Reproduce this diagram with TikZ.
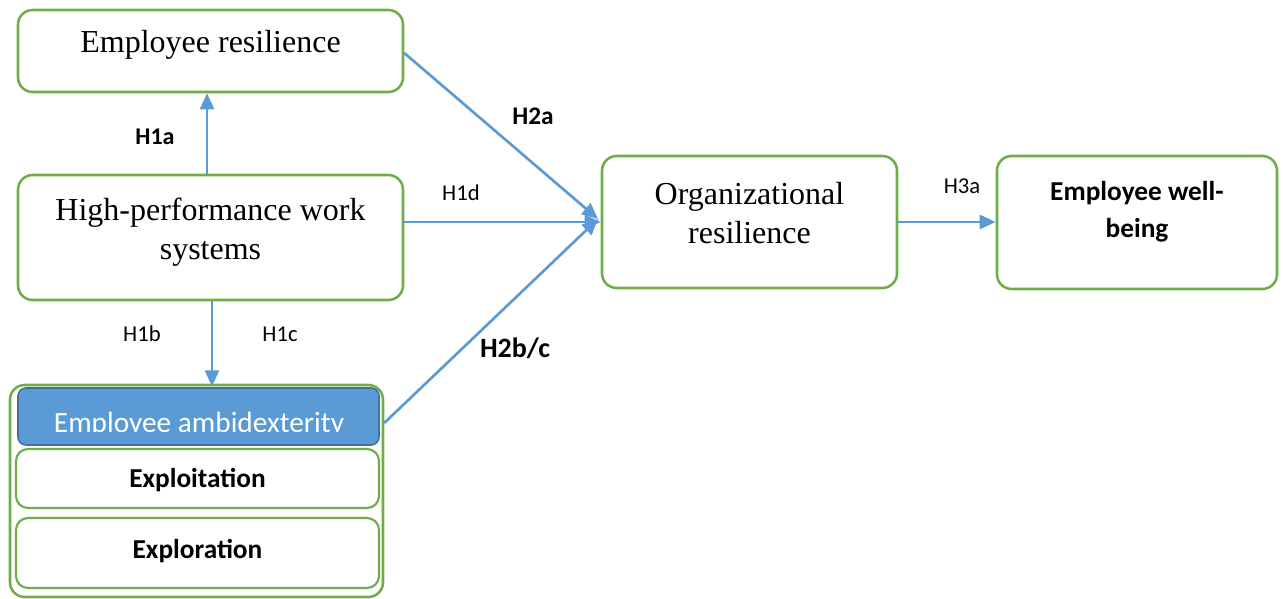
\documentclass[tikz,border=0pt]{standalone}
\usepackage{fontspec}
\setmainfont{Liberation Serif}
\newfontfamily\carl{Carlito}
\usetikzlibrary{arrows.meta,calc}
\definecolor{gbord}{HTML}{70AD47}
\definecolor{barrow}{HTML}{5B9BD5}
\definecolor{bdark}{HTML}{41719C}
\tikzset{
  gbox/.style={draw=gbord,line width=1.9pt,rounded corners=11pt,fill=white,inner sep=0pt},
  arr/.style={draw=barrow,line width=2pt,-{Triangle[length=12pt,width=10.5pt]}},
  lbl/.style={font=\carl\fontsize{17}{19}\selectfont,inner sep=0pt},
  blbl/.style={font=\carl\bfseries\fontsize{19}{22}\selectfont,inner sep=0pt},
  serif/.style={font=\fontsize{24}{29}\selectfont,align=center},
  calt/.style={font=\carl\bfseries\fontsize{20.5}{28}\selectfont,align=center}
}
\begin{document}
\begin{tikzpicture}[x=0.75pt,y=-0.75pt]
\useasboundingbox (0,0) rectangle (1283,599);
% boxes
\node[gbox,minimum width=288.75pt,minimum height=61.5pt] (er) at (210.5,51) {};
\node[serif] (ert) at (210.5,45) {Employee resilience};
\node[gbox,minimum width=288.75pt,minimum height=93.75pt] (hp) at (210.5,237.5) {};
\node[serif] (hpt) at (210.5,232) {High-performance work\\systems};
\node[gbox,minimum width=279.75pt,minimum height=159pt] (amb) at (196.5,491) {};
\node[draw=bdark,fill=barrow,line width=1.2pt,rounded corners=6pt,minimum width=270.75pt,minimum height=42.75pt,inner sep=0pt] (blue) at (198.5,416.5) {};
\begin{scope}
\clip (18,388) rectangle (379,431);
\node[font=\carl\fontsize{22}{26}\selectfont,text=white,anchor=base,inner sep=0pt] (bluet) at (199,432) {Employee ambidexterity};
\end{scope}
\node[gbox,line width=1.6pt,rounded corners=9pt,minimum width=272.25pt,minimum height=44.25pt] (xpt) at (197.5,478.5) {};
\node[calt] (xptt) at (197.5,480) {Exploitation};
\node[gbox,line width=1.6pt,rounded corners=9pt,minimum width=272.25pt,minimum height=52.5pt] (xpr) at (197.5,553) {};
\node[calt] (xprt) at (197.5,551) {Exploration};
\node[gbox,minimum width=221.25pt,minimum height=99pt] (org) at (749.5,222) {};
\node[serif] (orgt) at (749.5,213) {Organizational\\resilience};
\node[gbox,minimum width=210pt,minimum height=99.75pt] (wb) at (1137,222.5) {};
\node[calt] (wbt) at (1137,212) {Employee well-\\being};
% connectors
\coordinate (conv) at (598,219);
\draw[arr] ([xshift=-2.6pt]hp.north) -- ([xshift=-2.6pt]hp.north |- er.south);
\draw[arr] ([xshift=1.1pt]hp.south) -- ([xshift=1.1pt,yshift=-2pt]hp.south |- amb.north);
\draw[arr] ([yshift=-1.5pt]er.east) -- (conv);
\draw[arr] (hp.east |- org.west) -- (org.west);
\draw[arr] ($(amb.east)+(0,-68)$) -- (conv);
\draw[arr] (org.east) -- (org.east -| wb.west);
% labels
\node[blbl,font=\carl\bfseries\fontsize{18}{20}\selectfont] (h1a) at (155,137) {H1a};
\node[blbl] (h2a) at (533,116) {H2a};
\node[lbl] (h1d) at (461,193) {H1d};
\node[lbl] (h1b) at (142,334) {H1b};
\node[lbl] (h1c) at (280,334) {H1c};
\node[blbl,font=\carl\bfseries\fontsize{21}{24}\selectfont] (h2bc) at (515,348) {H2b/c};
\node[lbl] (h3a) at (962,186) {H3a};
\end{tikzpicture}
\end{document}
